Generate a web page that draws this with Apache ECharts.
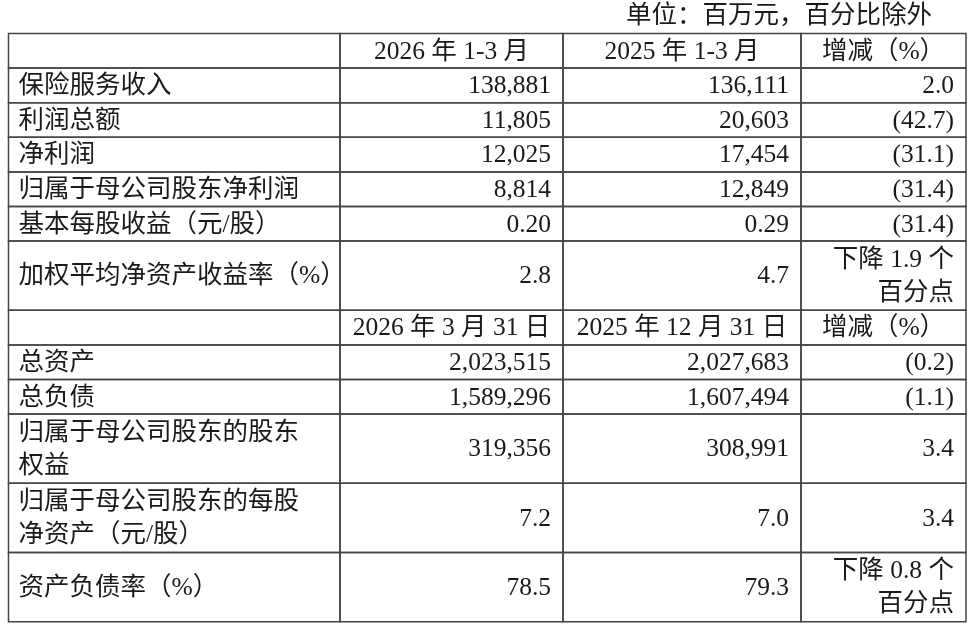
<!DOCTYPE html>
<html>
<head>
<meta charset="utf-8">
<script src="https://cdn.jsdelivr.net/npm/echarts@6/dist/echarts.min.js"></script>
<style>
  html, body { margin: 0; padding: 0; background: #ffffff; }
  #chart { width: 975px; height: 631px; }
</style>
</head>
<body>
<div id="chart"></div>
<script>
// ---------- data ----------
const unitNote = '单位：百万元，百分比除外';
const flowHeaders = ['2026 年 1-3 月', '2025 年 1-3 月', '增减（%）'];
const flowItems = ['保险服务收入', '利润总额', '净利润', '归属于母公司股东净利润', '基本每股收益（元/股）', '加权平均净资产收益率（%）'];
const flowCurrent = [138881, 11805, 12025, 8814, 0.20, 2.8];
const flowPrior = [136111, 20603, 17454, 12849, 0.29, 4.7];
const flowChange = [2.0, -42.7, -31.1, -31.4, -31.4, -1.9];
const flowDecimals = [0, 0, 0, 0, 2, 1];
const flowPointChange = [false, false, false, false, false, true];

const stockHeaders = ['2026 年 3 月 31 日', '2025 年 12 月 31 日', '增减（%）'];
const stockItems = ['总资产', '总负债', '归属于母公司股东的股东\n权益', '归属于母公司股东的每股\n净资产（元/股）', '资产负债率（%）'];
const stockCurrent = [2023515, 1589296, 319356, 7.2, 78.5];
const stockPrior = [2027683, 1607494, 308991, 7.0, 79.3];
const stockChange = [-0.2, -1.1, 3.4, 3.4, -0.8];
const stockDecimals = [0, 0, 0, 1, 1];
const stockPointChange = [false, false, false, false, true];

// ---------- layout config ----------
const colWidths = [331.5, 223, 238, 165];
const flowSpans = [1, 1, 1, 1, 1, 2];
const stockSpans = [1, 1, 2, 2, 2];
const FONT_FAMILY = '"Liberation Serif", "Noto Sans CJK SC", serif';
const FONT = '25.5px ' + FONT_FAMILY;
const LINE = '#454545';
const INK = '#1a1a1a';

// ---------- helpers ----------
function fmtNum(v, d) {
  const s = Math.abs(v).toFixed(d);
  const parts = s.split('.');
  parts[0] = parts[0].replace(/\B(?=(\d{3})+(?!\d))/g, ',');
  return parts.join('.');
}
function fmtChange(v, point) {
  if (point) {
    return (v < 0 ? '下降 ' : '上升 ') + Math.abs(v).toFixed(1) + ' 个\n百分点';
  }
  return v < 0 ? '(' + Math.abs(v).toFixed(1) + ')' : v.toFixed(1);
}

const colEdges = [0];
colWidths.forEach(w => colEdges.push(colEdges[colEdges.length - 1] + w));

const cells = [];
let row = 0;
function addHeader(headers) {
  cells.push({ value: [colEdges[0], colEdges[1], row, row + 1], text: '', align: 'left' });
  headers.forEach((h, i) => {
    cells.push({ value: [colEdges[i + 1], colEdges[i + 2], row, row + 1], text: h, align: 'center' });
  });
  row += 1;
}
function addBody(items, cur, prior, chg, dec, pt, spans) {
  items.forEach((name, i) => {
    const r0 = row, r1 = row + spans[i];
    cells.push({ value: [colEdges[0], colEdges[1], r0, r1], text: name, align: 'left' });
    cells.push({ value: [colEdges[1], colEdges[2], r0, r1], text: fmtNum(cur[i], dec[i]), align: 'right' });
    cells.push({ value: [colEdges[2], colEdges[3], r0, r1], text: fmtNum(prior[i], dec[i]), align: 'right' });
    cells.push({ value: [colEdges[3], colEdges[4], r0, r1], text: fmtChange(chg[i], pt[i]), align: 'right' });
    row = r1;
  });
}
addHeader(flowHeaders);
addBody(flowItems, flowCurrent, flowPrior, flowChange, flowDecimals, flowPointChange, flowSpans);
addHeader(stockHeaders);
addBody(stockItems, stockCurrent, stockPrior, stockChange, stockDecimals, stockPointChange, stockSpans);
const totalRows = row;

const chart = echarts.init(document.getElementById('chart'), null, { renderer: 'canvas' });
chart.setOption({
  animation: false,
  title: {
    text: unitNote,
    right: 43,
    top: 4,
    padding: 0,
    textStyle: { fontSize: 25.5, fontWeight: 'normal', color: INK, fontFamily: FONT_FAMILY }
  },
  grid: { left: 8.5, right: 9, top: 33.5, bottom: 9.3 },
  xAxis: { type: 'value', min: 0, max: colEdges[colEdges.length - 1], show: false },
  yAxis: { type: 'value', min: 0, max: totalRows, inverse: true, show: false },
  series: [{
    type: 'custom',
    data: cells,
    renderItem: function (params, api) {
      const c = cells[params.dataIndex];
      const p0 = api.coord([api.value(0), api.value(2)]);
      const p1 = api.coord([api.value(1), api.value(3)]);
      const x0 = p0[0], y0 = p0[1], x1 = p1[0], y1 = p1[1];
      let tx;
      if (c.align === 'left') tx = x0 + 10;
      else if (c.align === 'right') tx = x1 - 12;
      else tx = (x0 + x1) / 2;
      return {
        type: 'group',
        children: [
          {
            type: 'rect',
            shape: { x: x0, y: y0, width: x1 - x0, height: y1 - y0 },
            style: { fill: 'rgba(0,0,0,0)', stroke: LINE, lineWidth: 1.5 }
          },
          {
            type: 'text',
            style: {
              text: c.text, x: tx, y: (y0 + y1) / 2 + 1,
              align: c.align, verticalAlign: 'middle',
              font: FONT, fill: INK, lineHeight: 33
            }
          }
        ]
      };
    }
  }]
});
</script>
</body>
</html>
